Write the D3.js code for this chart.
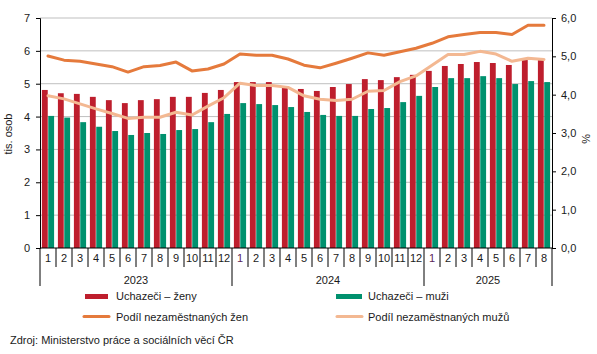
<!DOCTYPE html>
<html><head><meta charset="utf-8">
<script src="https://cdn.jsdelivr.net/npm/d3@7"></script>
<style>body{margin:0;background:#fff}svg{display:block;font-family:"Liberation Sans",Arial,sans-serif}</style>
</head><body><svg id="c" width="597" height="354"></svg>
<script>
const months = [1,2,3,4,5,6,7,8,9,10,11,12,1,2,3,4,5,6,7,8,9,10,11,12,1,2,3,4,5,6,7,8];
const years = ["2023","2024","2025"];
const yearOfMonth = [].concat(Array(12).fill("2023"),Array(12).fill("2024"),Array(8).fill("2025"));
const uchazeciZeny = [4.81,4.71,4.69,4.60,4.50,4.41,4.50,4.53,4.60,4.60,4.72,4.81,5.05,5.05,5.05,4.93,4.84,4.78,4.90,4.99,5.14,5.11,5.20,5.27,5.39,5.54,5.60,5.66,5.63,5.57,5.72,5.72];
const uchazeciMuzi = [4.02,3.97,3.83,3.69,3.56,3.44,3.50,3.47,3.59,3.62,3.83,4.08,4.41,4.38,4.35,4.29,4.14,4.05,4.02,4.02,4.23,4.26,4.44,4.63,4.90,5.17,5.17,5.23,5.17,4.99,5.08,5.05];
const podilZen = [5.01,4.90,4.87,4.80,4.73,4.59,4.73,4.76,4.85,4.62,4.67,4.80,5.06,5.03,5.03,4.93,4.77,4.70,4.82,4.95,5.09,5.03,5.12,5.21,5.34,5.51,5.57,5.62,5.62,5.57,5.81,5.81];
const podilMuzu = [3.97,3.89,3.76,3.63,3.51,3.38,3.41,3.41,3.54,3.47,3.70,3.92,4.30,4.24,4.24,4.19,3.97,3.88,3.85,3.88,4.09,4.11,4.34,4.49,4.77,5.05,5.05,5.13,5.06,4.87,4.95,4.92];
const leftTicks = [0,1,2,3,4,5,6,7];
const rightTicks = [0,1,2,3,4,5,6];

const C = {red:"#be1e2d", green:"#00916e", orange:"#e57a3c", light:"#f3b892", grid:"#bfbfbf", text:"#1a1a1a"};
const L=40, R=552, T=18, B=248;
const svg = d3.select("#c");
const idx = d3.range(months.length);
const x = d3.scaleBand().domain(idx).range([L,R]).paddingInner(0).paddingOuter(0);
const xs = d3.scaleBand().domain(["z","m"]).range([0,x.bandwidth()]).paddingInner(0.08).paddingOuter(0.3);
const yL = d3.scaleLinear().domain([0,7]).range([B,T]);
const yR = d3.scaleLinear().domain([0,6]).range([B,T]);

// grid
svg.append("g").selectAll("line").data(leftTicks.filter(d=>d>0)).join("line")
  .attr("x1",L).attr("x2",R).attr("y1",d=>yL(d)).attr("y2",d=>yL(d))
  .attr("stroke",C.grid).attr("stroke-width",1);

// bars
const gb = svg.append("g");
gb.selectAll("rect.z").data(idx).join("rect").attr("class","z")
  .attr("x",i=>x(i)+xs("z")).attr("width",xs.bandwidth())
  .attr("y",i=>yL(uchazeciZeny[i])).attr("height",i=>B-yL(uchazeciZeny[i])).attr("fill",C.red);
gb.selectAll("rect.m").data(idx).join("rect").attr("class","m")
  .attr("x",i=>x(i)+xs("m")).attr("width",xs.bandwidth())
  .attr("y",i=>yL(uchazeciMuzi[i])).attr("height",i=>B-yL(uchazeciMuzi[i])).attr("fill",C.green);

// lines
const line = arr => d3.line().x(i=>x(i)+x.bandwidth()/2).y(i=>yR(arr[i]))(idx);
svg.append("path").attr("d",line(podilMuzu)).attr("fill","none").attr("stroke",C.light).attr("stroke-width",3).attr("stroke-linejoin","round").attr("stroke-linecap","round");
svg.append("path").attr("d",line(podilZen)).attr("fill","none").attr("stroke",C.orange).attr("stroke-width",3).attr("stroke-linejoin","round").attr("stroke-linecap","round");

// left axis
const axL = svg.append("g").attr("transform",`translate(${L},0)`)
  .call(d3.axisLeft(yL).tickValues(leftTicks).tickSize(4).tickPadding(6).tickFormat(d3.format("d")));
axL.select(".domain").attr("stroke","#000");
axL.selectAll(".tick line").attr("stroke","#000");
axL.selectAll("text").attr("font-size",11).attr("fill",C.text).attr("font-family","Liberation Sans, Arial, sans-serif");

// right axis
const axR = svg.append("g").attr("transform",`translate(${R},0)`)
  .call(d3.axisRight(yR).tickValues(rightTicks).tickSize(4).tickPadding(5).tickFormat(d=>d3.format(".1f")(d).replace(".",",")));
axR.select(".domain").attr("stroke","#000");
axR.selectAll(".tick line").attr("stroke","#000");
axR.selectAll("text").attr("font-size",11).attr("fill",C.text).attr("font-family","Liberation Sans, Arial, sans-serif");

// axis titles
svg.append("text").attr("transform","translate(12,134) rotate(-90)").attr("text-anchor","middle")
  .attr("font-size",11).attr("fill",C.text).text("tis. osob");
svg.append("text").attr("transform","translate(582,139) rotate(90)").attr("text-anchor","middle")
  .attr("font-size",11).attr("fill",C.text).text("%");

// x axis
svg.append("line").attr("x1",L).attr("x2",R).attr("y1",B).attr("y2",B).attr("stroke","#000");
const axB = svg.append("g").attr("transform",`translate(0,${B})`)
  .call(d3.axisBottom(x).tickSize(0).tickPadding(6).tickFormat(i=>months[i]));
axB.select(".domain").remove();
axB.selectAll("text").attr("font-size",11).attr("fill",(i)=> (months[i]===1 && i>0) ? "#5b1f5b" : C.text);
// separators
const bounds = d3.range(months.length+1).map(i=> i<months.length ? x(i) : R);
svg.append("g").selectAll("line").data(bounds.map((b,i)=>({b,i}))).join("line")
  .attr("x1",d=>d.b).attr("x2",d=>d.b).attr("y1",B)
  .attr("y2",d=> (d.i===0||d.i===months.length||months[d.i]===1) ? 286 : 267)
  .attr("stroke","#000").attr("stroke-width",1);
// year labels
years.forEach(y=>{
  const ii = idx.filter(i=>yearOfMonth[i]===y);
  const cx = (x(ii[0]) + x(ii[ii.length-1]) + x.bandwidth())/2;
  svg.append("text").attr("x",cx).attr("y",284).attr("text-anchor","middle").attr("font-size",11).attr("fill",C.text).text(y);
});

// legend
const lg = svg.append("g").attr("font-size",11).attr("fill",C.text);
lg.append("rect").attr("x",85).attr("y",294).attr("width",23).attr("height",5).attr("fill",C.red);
lg.append("text").attr("x",116).attr("y",300).text("Uchazeči – ženy");
lg.append("rect").attr("x",336).attr("y",294).attr("width",26).attr("height",5).attr("fill",C.green);
lg.append("text").attr("x",368).attr("y",300).text("Uchazeči – muži");
lg.append("line").attr("x1",84).attr("x2",109).attr("y1",316.5).attr("y2",316.5).attr("stroke",C.orange).attr("stroke-width",3).attr("stroke-linecap","round");
lg.append("text").attr("x",116).attr("y",320.5).text("Podíl nezaměstnaných žen");
lg.append("line").attr("x1",337).attr("x2",362).attr("y1",316.5).attr("y2",316.5).attr("stroke",C.light).attr("stroke-width",3).attr("stroke-linecap","round");
lg.append("text").attr("x",368).attr("y",320.5).text("Podíl nezaměstnaných mužů");

svg.append("text").attr("x",10).attr("y",344).attr("font-size",11).attr("fill",C.text).text("Zdroj: Ministerstvo práce a sociálních věcí ČR");
</script></body></html>
